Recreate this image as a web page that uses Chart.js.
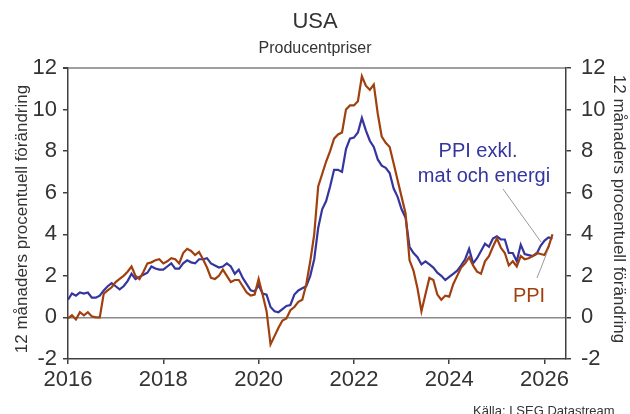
<!DOCTYPE html>
<html>
<head>
<meta charset="utf-8">
<script src="https://cdn.jsdelivr.net/npm/chart.js@4"></script>
<style>
  html, body { margin: 0; padding: 0; background: #fff; }
  #wrap { width: 630px; height: 414px; }
</style>
</head>
<body>
<div id="wrap"><canvas id="ppiChart" width="630" height="414"></canvas></div>
<script>
// monthly data, Jan 2016 - Mar 2026
const startYear = 2016;
const ppi = [
  -0.05, 0.1, -0.1, 0.25, 0.1, 0.25, 0.05, 0.0, 0.0, 1.15, 1.3, 1.45,
  1.7, 1.85, 2.0, 2.2, 2.45, 2.0, 1.85, 2.2, 2.6, 2.65, 2.75, 2.8,
  2.6, 2.7, 2.85, 2.8, 2.6, 3.1, 3.3, 3.2, 3.0, 3.15, 2.8, 2.4,
  1.9, 1.85, 2.0, 2.3, 2.0, 1.7, 1.8, 1.8, 1.5, 1.2, 1.05, 1.1,
  1.85, 1.1, 0.3, -1.3, -0.9, -0.5, -0.15, -0.05, 0.35, 0.5, 0.75, 0.85,
  1.6, 2.7, 4.0, 6.3, 6.9, 7.5, 8.0, 8.6, 8.8, 8.9, 10.0, 10.2,
  10.2, 10.4, 11.6, 11.15, 10.95, 11.2, 9.8, 8.7, 8.4, 8.2, 7.4, 6.6,
  5.8, 5.0, 2.75, 2.25, 1.4, 0.3, 1.1, 1.9, 1.8, 1.1, 0.85, 1.05,
  1.0, 1.6, 2.0, 2.4, 2.6, 2.9, 2.5, 2.2, 2.1, 2.7, 2.95, 3.4,
  3.8, 3.35, 3.1, 2.5, 2.7, 2.45, 2.95, 2.8, 2.85, 2.95, 3.1, 3.05,
  3.0, 3.4, 4.0
];
const ppiCore = [
  0.85, 1.15, 1.05, 1.2, 1.15, 1.2, 0.95, 0.95, 1.05, 1.3, 1.5, 1.65,
  1.5, 1.35, 1.5, 1.75, 2.1, 1.85, 1.95, 2.05, 2.15, 2.45, 2.35, 2.3,
  2.3, 2.45, 2.6, 2.35, 2.35, 2.6, 2.75, 2.65, 2.6, 2.8, 2.8, 2.85,
  2.6, 2.5, 2.4, 2.45, 2.6, 2.45, 2.1, 2.3, 1.9, 1.6, 1.3, 1.25,
  1.55, 1.15, 1.1, 0.5, 0.3, 0.25, 0.4, 0.55, 0.6, 1.1, 1.3, 1.4,
  1.5, 2.0, 2.8, 4.3, 5.2, 5.6, 6.3, 7.1, 7.1, 7.0, 8.1, 8.6,
  8.65, 8.9, 9.6, 9.0, 8.5, 8.2, 7.6, 7.3, 7.2, 6.95, 6.2, 5.8,
  5.2, 4.8, 3.4, 3.1, 2.9, 2.55, 2.7, 2.55, 2.4, 2.15, 2.0, 1.8,
  1.95, 2.1, 2.25, 2.5, 2.8, 3.3, 2.6, 2.85, 3.2, 3.55, 3.4, 3.8,
  3.9, 3.75, 3.75, 3.1, 3.1, 2.7, 3.5, 3.05, 3.0, 2.95, 3.05, 3.45,
  3.7, 3.85, 3.8
];
const xTicks = [2016, 2018, 2020, 2022, 2024, 2026];
const yTicks = [-2, 0, 2, 4, 6, 8, 10, 12];

const FONT = 'Arial, "Liberation Sans", sans-serif';
const TEXT = '#333333';
const AXIS = '#404040';
const BROWN = '#a0400f';
const BLUE = '#35359f';

const toPoints = arr => arr.map((v, i) => ({ x: startYear + i / 12, y: v }));

const textPlugin = {
  id: 'texts',
  afterDraw(chart) {
    const c = chart.ctx;
    c.save();
    c.fillStyle = TEXT;
    c.textAlign = 'center';
    c.textBaseline = 'middle';
    c.font = '22px ' + FONT;
    c.fillText('USA', 315, 22);
    c.font = '16px ' + FONT;
    c.fillText('Producentpriser', 315, 49);

    // axis titles
    c.font = '17px ' + FONT;
    c.save();
    c.translate(22, 219);
    c.rotate(-Math.PI / 2);
    c.fillText('12 månaders procentuell förändring', 0, 0);
    c.restore();
    c.save();
    c.translate(619, 209);
    c.rotate(Math.PI / 2);
    c.fillText('12 månaders procentuell förändring', 0, 0);
    c.restore();

    // labels + leader lines
    c.strokeStyle = '#9a9a9a';
    c.lineWidth = 1;
    c.beginPath();
    c.moveTo(503, 189); c.lineTo(541, 242);
    c.moveTo(537, 278); c.lineTo(548, 250);
    c.stroke();
    c.font = '20px ' + FONT;
    c.fillStyle = BLUE;
    c.fillText('PPI exkl.', 478, 151);
    c.fillText('mat och energi', 484, 176);
    c.fillStyle = BROWN;
    c.fillText('PPI', 529, 296);

    c.fillStyle = TEXT;
    c.textAlign = 'left';
    c.textBaseline = 'top';
    c.font = '13px ' + FONT;
    c.fillText('Källa: LSEG Datastream', 473, 405);
    c.restore();
  }
};

const yTickOpts = { font: { size: 22, family: FONT }, color: TEXT, stepSize: 2 };

new Chart(document.getElementById('ppiChart'), {
  type: 'line',
  data: {
    datasets: [
      { label: 'PPI', data: toPoints(ppi), borderColor: BROWN, borderWidth: 2.2, pointRadius: 0, tension: 0 },
      { label: 'PPI exkl. mat och energi', data: toPoints(ppiCore), borderColor: BLUE, borderWidth: 2.2, pointRadius: 0, tension: 0 }
    ]
  },
  options: {
    responsive: false,
    animation: false,
    layout: { padding: { top: 68, left: 0, right: 0, bottom: 0 } },
    plugins: { legend: { display: false }, tooltip: { enabled: false } },
    scales: {
      x: {
        type: 'linear',
        min: 2016,
        max: 2026.45,
        afterBuildTicks: s => { s.ticks = xTicks.map(v => ({ value: v })); },
        afterFit: s => { s.height = 55; },
        ticks: { font: { size: 22, family: FONT }, color: TEXT, padding: 3, maxRotation: 0, callback: v => String(v) },
        grid: { drawOnChartArea: false, tickColor: AXIS, tickLength: 5, lineWidth: 1.5 },
        border: { color: AXIS, width: 1.5 }
      },
      y: {
        position: 'left',
        min: -2,
        max: 12,
        afterBuildTicks: s => { s.ticks = yTicks.map(v => ({ value: v })); },
        afterFit: s => { s.width = 68; },
        ticks: Object.assign({ padding: 6 }, yTickOpts),
        grid: {
          color: c => c.tick.value === 0 ? '#8a8a8a' : (c.tick.value === 12 ? '#a0a0a0' : 'rgba(0,0,0,0)'),
          lineWidth: c => c.tick.value === 12 ? 2 : 1.5,
          tickColor: AXIS,
          tickLength: 5
        },
        border: { color: AXIS, width: 1.5 }
      },
      y2: {
        position: 'right',
        min: -2,
        max: 12,
        afterBuildTicks: s => { s.ticks = yTicks.map(v => ({ value: v })); },
        afterFit: s => { s.width = 64; },
        ticks: Object.assign({ padding: 10 }, yTickOpts),
        grid: { drawOnChartArea: false, tickColor: AXIS, tickLength: 5, lineWidth: 1.5 },
        border: { color: AXIS, width: 1.5 }
      }
    }
  },
  plugins: [textPlugin]
});
</script>
</body>
</html>
